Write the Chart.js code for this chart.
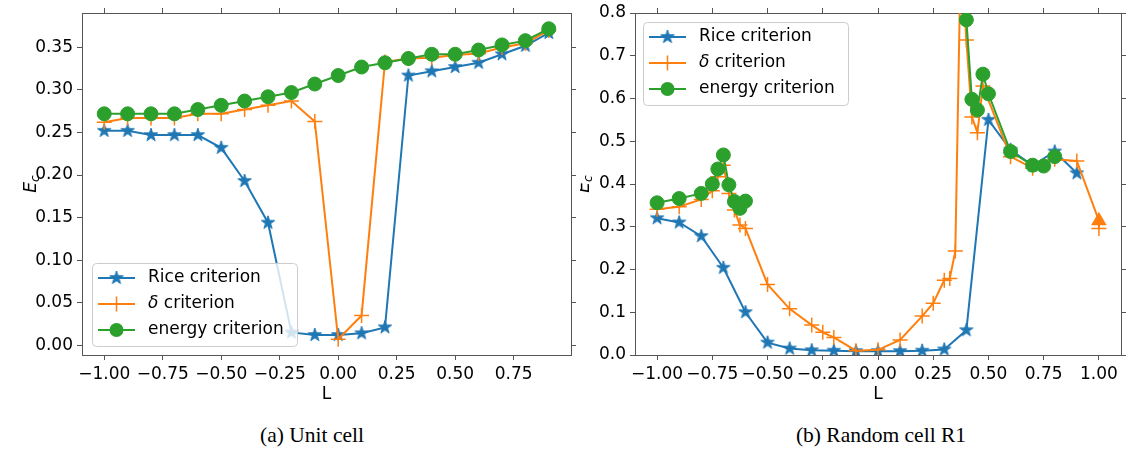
<!DOCTYPE html>
<html>
<head>
<meta charset="utf-8">
<script src="https://cdn.jsdelivr.net/npm/chart.js@4/dist/chart.umd.min.js"></script>
<style>
body { margin:0; background:#fff; }
#wrap { position:relative; width:1130px; height:460px; overflow:hidden; }
canvas { position:absolute; top:0; }
.cap { position:absolute; top:423px; width:300px; text-align:center; font:21.5px "Liberation Serif", serif; color:#000; }
</style>
</head>
<body>
<div id="wrap">
  <canvas id="chartA" width="580" height="420" style="left:0"></canvas>
  <canvas id="chartB" width="550" height="420" style="left:580px"></canvas>
  <div class="cap" style="left:162px">(a) Unit cell</div>
  <div class="cap" style="left:731px">(b) Random cell R1</div>
</div>
<script>
// (a) unit cell
var unitL = [-1.0,-0.9,-0.8,-0.7,-0.6,-0.5,-0.4,-0.3,-0.2,-0.1,0.0,0.1,0.2,0.3,0.4,0.5,0.6,0.7,0.8,0.9];
var unitRice = [0.252,0.252,0.247,0.247,0.247,0.232,0.193,0.144,0.015,0.012,0.012,0.014,0.021,0.317,0.322,0.327,0.332,0.342,0.352,0.367];
var unitDelta = [0.262,0.267,0.267,0.267,0.272,0.272,0.277,0.282,0.287,0.263,0.007,0.035,0.333,0.337,0.338,0.341,0.343,0.350,0.355,0.370];
var unitEnergy = [0.272,0.272,0.272,0.272,0.277,0.282,0.287,0.292,0.297,0.307,0.317,0.327,0.332,0.337,0.342,0.342,0.347,0.353,0.358,0.372];

// (b) random cell R1
var r1RiceL = [-1.0,-0.9,-0.8,-0.7,-0.6,-0.5,-0.4,-0.3,-0.2,-0.1,0.0,0.1,0.2,0.3,0.4,0.5,0.6,0.7,0.8,0.9];
var r1Rice = [0.32,0.31,0.278,0.204,0.100,0.029,0.015,0.011,0.010,0.009,0.009,0.009,0.010,0.013,0.058,0.55,0.48,0.443,0.476,0.425];
var r1DeltaL = [-1.0,-0.9,-0.8,-0.75,-0.725,-0.7,-0.675,-0.65,-0.625,-0.6,-0.5,-0.4,-0.3,-0.25,-0.2,-0.1,0.0,0.1,0.2,0.25,0.3,0.325,0.35,0.375,0.4,0.425,0.45,0.475,0.6,0.7,0.8,0.9,1.0,1.0];
var r1Delta = [0.341,0.347,0.364,0.384,0.417,0.444,0.378,0.339,0.304,0.296,0.165,0.108,0.070,0.053,0.041,0.010,0.012,0.035,0.091,0.121,0.175,0.179,0.243,0.95,0.737,0.557,0.52,0.629,0.464,0.437,0.458,0.454,0.314,0.296];
var r1EnergyL = [-1.0,-0.9,-0.8,-0.75,-0.725,-0.7,-0.675,-0.65,-0.625,-0.6,0.0,0.4,0.425,0.45,0.475,0.5,0.6,0.7,0.75,0.8];
var r1Energy = [0.356,0.366,0.378,0.400,0.435,0.468,0.398,0.359,0.343,0.360,null,0.784,0.598,0.573,0.657,0.611,0.476,0.444,0.442,0.464];

var unitXTicks = [-1.0,-0.75,-0.5,-0.25,0.0,0.25,0.5,0.75];
var unitYTicks = [0.0,0.05,0.10,0.15,0.20,0.25,0.30,0.35];
var r1XTicks = [-1.0,-0.75,-0.5,-0.25,0.0,0.25,0.5,0.75,1.0];
var r1YTicks = [0.0,0.1,0.2,0.3,0.4,0.5,0.6,0.7,0.8];

var seriesNames = ['Rice criterion', 'δ criterion', 'energy criterion'];
var colors = ['#1f77b4', '#ff7f0e', '#2ca02c'];

var FONT = '"DejaVu Sans", sans-serif';
var SPINE = '#555';

var pts = function(xs, ys){
	return xs.map(function(x, i){ return {x: x, y: ys[i]}; });
}

// filled 5 point star like matplotlib '*'
var makeStar = function(color, r){
	var c = document.createElement('canvas');
	var s = Math.ceil(r*2 + 4);
	c.width = s; c.height = s;
	var g = c.getContext('2d');
	g.beginPath();
	for (var k = 0; k < 10; k++){
		var rad = k % 2 == 0 ? r : r*0.381966;
		var a = -Math.PI/2 + k*Math.PI/5;
		var px = s/2 + rad*Math.cos(a), py = s/2 + rad*Math.sin(a);
		if (k == 0) g.moveTo(px, py); else g.lineTo(px, py);
	}
	g.closePath();
	g.fillStyle = color; g.fill();
	g.strokeStyle = color; g.lineWidth = 1; g.stroke();
	return c;
}
var starImg = makeStar(colors[0], 7);

var minusFmt = function(digits){
	return function(v){ return Number(v).toFixed(digits).replace('-', '\u2212'); };
}

var drawMarker = function(ctx, i, x, y){
	if (i == 0){
		ctx.drawImage(starImg, x - starImg.width/2, y - starImg.height/2);
	} else if (i == 1){
		ctx.strokeStyle = colors[1]; ctx.lineWidth = 1.5;
		ctx.beginPath();
		ctx.moveTo(x - 7.5, y); ctx.lineTo(x + 7.5, y);
		ctx.moveTo(x, y - 7.5); ctx.lineTo(x, y + 7.5);
		ctx.stroke();
	} else {
		ctx.fillStyle = colors[2];
		ctx.beginPath(); ctx.arc(x, y, 7, 0, Math.PI*2); ctx.fill();
	}
}

// legend box inside the axes + axis titles
var extrasPlugin = {
	id: 'extras',
	afterDraw: function(chart, args, opts){
		var ctx = chart.ctx, a = chart.chartArea;
		var w = 205, h = 83;
		var bx = a.left + opts.dx;
		var by = opts.top ? a.top + opts.dy : a.bottom - opts.dy - h;
		ctx.save();
		ctx.fillStyle = 'rgba(255,255,255,0.8)';
		ctx.strokeStyle = '#cccccc';
		ctx.lineWidth = 1;
		ctx.beginPath();
		ctx.roundRect(bx + 0.5, by + 0.5, w, h, 4);
		ctx.fill(); ctx.stroke();
		for (var i = 0; i < 3; i++){
			var ry = by + 15 + i*26;
			ctx.strokeStyle = colors[i]; ctx.lineWidth = 2;
			ctx.beginPath(); ctx.moveTo(bx + 6, ry); ctx.lineTo(bx + 43, ry); ctx.stroke();
			drawMarker(ctx, i, bx + 24.5, ry);
			ctx.fillStyle = '#000';
			ctx.textBaseline = 'middle'; ctx.textAlign = 'left';
			var tx = bx + 56;
			if (i == 1){
				ctx.font = 'italic 17px ' + FONT;
				ctx.fillText('δ', tx, ry);
				tx += ctx.measureText('δ').width;
				ctx.font = '17px ' + FONT;
				ctx.fillText(' criterion', tx, ry);
			} else {
				ctx.font = '17px ' + FONT;
				ctx.fillText(seriesNames[i], tx, ry);
			}
		}
		// x title
		ctx.fillStyle = '#000';
		ctx.font = '17px ' + FONT;
		ctx.textAlign = 'center'; ctx.textBaseline = 'middle';
		ctx.fillText('L', (a.left + a.right)/2, a.bottom + 40);
		// y title E_c
		ctx.translate(a.left - 52, (a.top + a.bottom)/2);
		ctx.rotate(-Math.PI/2);
		ctx.textAlign = 'left'; ctx.textBaseline = 'alphabetic';
		ctx.font = 'italic 17px ' + FONT;
		var ew = ctx.measureText('E').width;
		ctx.font = 'italic 12px ' + FONT;
		var cw = ctx.measureText('c').width;
		var sx = -(ew + cw)/2;
		ctx.font = 'italic 17px ' + FONT;
		ctx.fillText('E', sx, 6);
		ctx.font = 'italic 12px ' + FONT;
		ctx.fillText('c', sx + ew, 9);
		ctx.restore();
	}
};

var axisSet = function(xmin, xmax, ymin, ymax, xt, yt, ydig, yWidth){
	var grid = {drawOnChartArea: false, drawTicks: true, tickLength: 5, color: SPINE, lineWidth: 1};
	var border = {display: true, color: SPINE, width: 1};
	var tickFont = {family: FONT, size: 17};
	var setTicks = function(list){ return function(s){ s.ticks = list.map(function(v){ return {value: v}; }); }; };
	return {
		x: {type: 'linear', position: 'bottom', min: xmin, max: xmax, grid: grid, border: border,
			afterBuildTicks: setTicks(xt), afterFit: function(s){ s.height = 65; },
			ticks: {font: tickFont, color: '#000', padding: 4, maxRotation: 0, autoSkip: false, callback: minusFmt(2)}},
		x2: {type: 'linear', position: 'top', min: xmin, max: xmax, grid: grid, border: border,
			afterBuildTicks: setTicks(xt), afterFit: function(s){ s.height = 0; },
			ticks: {display: false}},
		y: {type: 'linear', position: 'left', min: ymin, max: ymax, grid: grid, border: border,
			afterBuildTicks: setTicks(yt), afterFit: function(s){ s.width = yWidth; s.paddingTop = 0; s.paddingBottom = 0; },
			ticks: {font: tickFont, color: '#000', padding: 4, autoSkip: false, callback: minusFmt(ydig)}},
		y2: {type: 'linear', position: 'right', min: ymin, max: ymax, grid: grid, border: border,
			afterBuildTicks: setTicks(yt), afterFit: function(s){ s.width = 0; },
			ticks: {display: false}}
	};
}

// the delta run ends with a filled triangle tip at L = 1
var deltaStyle = function(c){
	return (c.raw && c.raw.x === 1.0 && c.raw.y > 0.3) ? 'triangle' : 'cross';
}

var makeSets = function(series){
	return series.map(function(d, i){
		return {
			label: seriesNames[i],
			data: d,
			xAxisID: 'x', yAxisID: 'y',
			borderColor: colors[i],
			backgroundColor: colors[i],
			borderWidth: 2,
			pointStyle: i == 0 ? starImg : (i == 1 ? deltaStyle : 'circle'),
			pointRadius: i == 0 ? 7 : (i == 1 ? 7.5 : 7),
			pointBorderWidth: i == 1 ? 1.5 : 1,
			pointBorderColor: colors[i],
			pointBackgroundColor: colors[i],
			tension: 0,
			spanGaps: false,
			clip: 0,
			order: 3 - i
		};
	});
}

var graph = function(id, series, scales, pad, legendOpts){
	return new Chart(document.getElementById(id).getContext('2d'), {
		type: 'line',
		data: {datasets: makeSets(series)},
		options: {
			responsive: false,
			animation: false,
			events: [],
			devicePixelRatio: 1,
			layout: {padding: pad},
			scales: scales,
			plugins: {legend: {display: false}, tooltip: {enabled: false}, extras: legendOpts}
		},
		plugins: [extrasPlugin]
	});
}

graph('chartA',
	[pts(unitL, unitRice), pts(unitL, unitDelta), pts(unitL, unitEnergy)],
	axisSet(-1.095, 0.995, -0.0115, 0.3905, unitXTicks, unitYTicks, 2, 82),
	{left: 0, right: 5, top: 13, bottom: 0},
	{dx: 10, dy: 9, top: false});

graph('chartB',
	[pts(r1RiceL, r1Rice), pts(r1DeltaL, r1Delta), pts(r1EnergyL, r1Energy)],
	axisSet(-1.1, 1.1, 0, 0.8, r1XTicks, r1YTicks, 1, 55),
	{left: 0, right: 2, top: 13, bottom: 0},
	{dx: 8, dy: 9, top: true});
</script>
</body>
</html>
